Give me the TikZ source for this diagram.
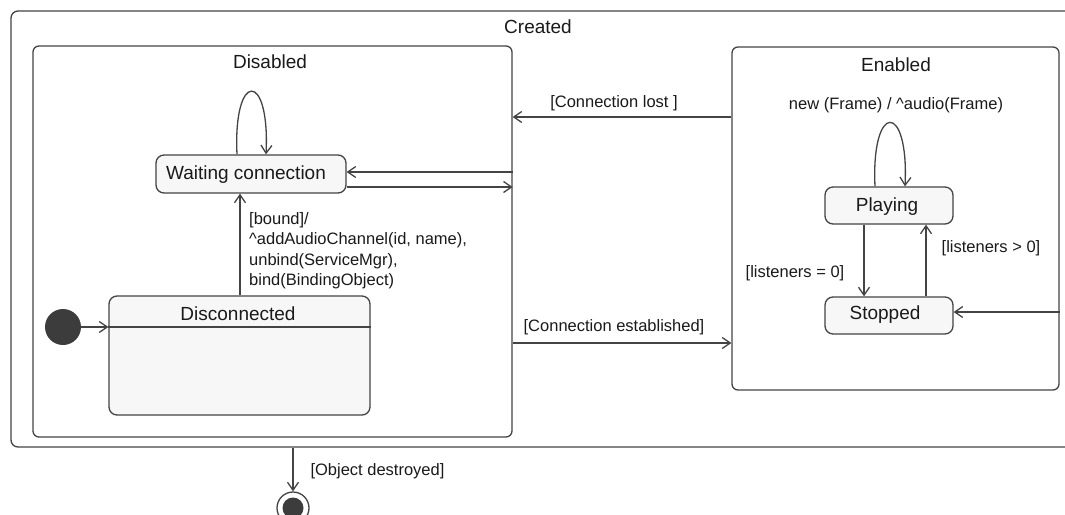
\documentclass[tikz,border=0pt]{standalone}
\usepackage{fontspec}
\setmainfont{Liberation Sans}
\usetikzlibrary{arrows.meta}
\definecolor{ln}{HTML}{444444}
\definecolor{tx}{HTML}{1A1A1A}
\definecolor{sf}{HTML}{F7F7F7}
\definecolor{dot}{HTML}{3C3C3C}
\tikzset{
  region/.style={draw=ln, line width=1.3pt, rounded corners=7pt, inner sep=0pt, fill=white},
  statebox/.style={draw=ln, line width=1.3pt, rounded corners=8pt, inner sep=0pt, fill=sf,
    font=\fontsize{19}{22}\selectfont, text=tx},
  ttl/.style={font=\fontsize{19}{22}\selectfont, text=tx, inner sep=0pt},
  lbl/.style={font=\fontsize{16.5}{20.5}\selectfont, text=tx, inner sep=0pt},
  arr/.style={draw=ln, line width=1.3pt, -{Straight Barb[length=8pt,width=11pt]}},
  plain/.style={draw=ln, line width=1.3pt},
}
\begin{document}
\begin{tikzpicture}[x=1pt,y=-1pt]
\useasboundingbox (0,0) rectangle (1065,514);
% regions
\node[region, minimum width=1064, minimum height=436] (created) at (543,229) {};
\node[ttl] (createdt) at (538,27) {Created};
\node[region, minimum width=479, minimum height=391, rounded corners=6pt] (disabled) at (272.5,241.5) {};
\node[ttl] (disabledt) at (270,62) {Disabled};
\node[region, minimum width=327, minimum height=343, rounded corners=6pt] (enabled) at (895.5,218.5) {};
\node[ttl] (enabledt) at (896,65) {Enabled};
% states
\node[statebox, minimum width=190, minimum height=38] (waiting) at (251,174) {};
\node[ttl] (waitingt) at (246,175) {Waiting connection};
\node[statebox, minimum width=261, minimum height=119] (disc) at (239.5,355.5) {};
\draw[plain] (disc.west |- 0,327) coordinate (dl) -- (disc.east |- 0,327) coordinate (dr);
\node[ttl] (disct) at (238,314) {Disconnected};
\node[statebox, minimum width=128, minimum height=37] (playing) at (889,205.5) {};
\node[ttl] (playingt) at (887,206.5) {Playing};
\node[statebox, minimum width=128, minimum height=37] (stopped) at (889,315.5) {};
\node[ttl] (stoppedt) at (885,315) {Stopped};
% pseudo states
\node[circle, fill=dot, minimum size=36, inner sep=0pt] (init) at (63,327) {};
\node[circle, draw=ln, line width=1.3pt, fill=white, minimum size=32, inner sep=0pt] (final) at (293,508) {};
\node[circle, fill=dot, minimum size=21, inner sep=0pt] (finalin) at (final.center) {};
% helper coordinates
\coordinate (xb) at (240,0);
\coordinate (y1) at (0,172);
\coordinate (y2) at (0,187);
\coordinate (y3) at (0,117);
\coordinate (y4) at (0,343);
\coordinate (y5) at (0,312);
\coordinate (xp) at (864,0);
\coordinate (xs) at (926,0);
\coordinate (xf) at (293,0);
% transitions
\draw[arr] (init.east) -- (init -| disc.west);
\draw[arr] (xb |- disc.north) -- (xb |- waiting.south);
\draw[arr] ([xshift=-14]waiting.north) .. controls ([xshift=-18,yshift=84]waiting.north) and ([xshift=19,yshift=84]waiting.north) .. ([xshift=15]waiting.north);
\draw[arr] (disabled.east |- y1) -- (waiting.east |- y1);
\draw[arr] (waiting.east |- y2) -- (disabled.east |- y2);
\draw[arr] (enabled.west |- y3) -- (disabled.east |- y3);
\draw[arr] (disabled.east |- y4) -- (enabled.west |- y4);
\draw[arr] ([xshift=-14]playing.north) .. controls ([xshift=-18,yshift=85]playing.north) and ([xshift=20,yshift=85]playing.north) .. ([xshift=16]playing.north);
\draw[arr] (xp |- playing.south) -- (xp |- stopped.north);
\draw[arr] (xs |- stopped.north) -- (xs |- playing.south);
\draw[arr] (enabled.east |- y5) -- (stopped.east |- y5);
\draw[arr] (xf |- created.south) -- (final.north);
% labels
\node[lbl] (lost) at (614,103) {[Connection lost ]};
\node[lbl] (est) at (614,327) {[Connection established]};
\node[lbl, anchor=west, align=left] (bound) at (249,250.5) {[bound]/\\\textasciicircum addAudioChannel(id, name),\\unbind(ServiceMgr),\\bind(BindingObject)};
\node[lbl] (newf) at (896,105) {new (Frame) / \textasciicircum audio(Frame)};
\node[lbl] (l0) at (795,273) {[listeners = 0]};
\node[lbl] (lg) at (991,248) {[listeners > 0]};
\node[lbl] (destroyed) at (377.5,471) {[Object destroyed]};
\end{tikzpicture}
\end{document}
